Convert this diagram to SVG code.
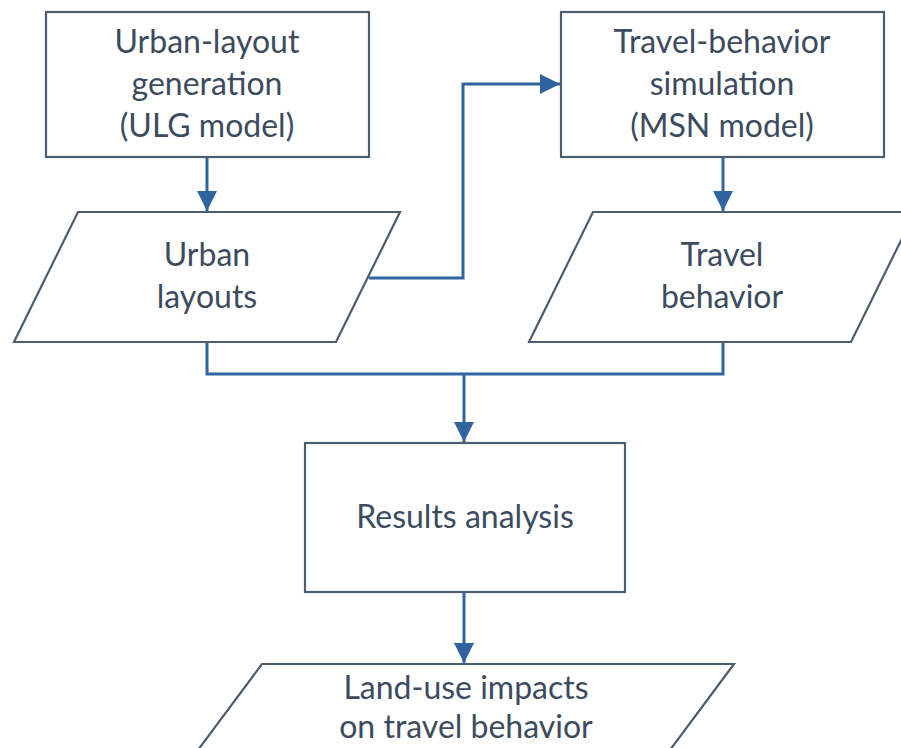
<svg xmlns="http://www.w3.org/2000/svg" width="901" height="748" viewBox="0 0 901 748">
<defs>
<marker id="ah" viewBox="0 0 20 20" refX="20" refY="10" markerWidth="20" markerHeight="20" markerUnits="userSpaceOnUse" orient="auto">
<path d="M0,0 L20,10 L0,20 Z" fill="#2f64a0"/>
</marker>
<style>
.shape{fill:#ffffff;stroke:#4d5d70;stroke-width:2.2}
.conn{fill:none;stroke:#2f64a0;stroke-width:3}
.lbl{font-family:Lato,"Open Sans","Liberation Sans",sans-serif;font-size:32px;fill:#3c4b5e;text-anchor:middle}
</style>
</defs>
<rect width="901" height="748" fill="#ffffff"/>
<g id="connectors">
<path class="conn" d="M207,157 V211" marker-end="url(#ah)"/>
<path class="conn" d="M723,157 V211" marker-end="url(#ah)"/>
<path class="conn" d="M369,278 H463 V84 H560" marker-end="url(#ah)"/>
<path class="conn" d="M207,342 V374 H723 V342"/>
<path class="conn" d="M464,374 V442" marker-end="url(#ah)"/>
<path class="conn" d="M464,592 V663" marker-end="url(#ah)"/>
</g>
<g id="ulg">
<rect class="shape" x="46" y="12" width="323" height="145"/>
<text class="lbl" x="207" y="53">Urban-layout</text>
<text class="lbl" x="207" y="95">generation</text>
<text class="lbl" x="207" y="137">(ULG model)</text>
</g>
<g id="msn">
<rect class="shape" x="561" y="12" width="323" height="145"/>
<text class="lbl" x="722" y="53">Travel-behavior</text>
<text class="lbl" x="722" y="95">simulation</text>
<text class="lbl" x="722" y="137">(MSN model)</text>
</g>
<g id="urbanlayouts">
<polygon class="shape" points="78,212 400,212 336,342 14,342"/>
<text class="lbl" x="207" y="266">Urban</text>
<text class="lbl" x="207" y="308">layouts</text>
</g>
<g id="travelbehavior">
<polygon class="shape" points="593,212 915,212 851,342 529,342"/>
<text class="lbl" x="722" y="266">Travel</text>
<text class="lbl" x="722" y="308">behavior</text>
</g>
<g id="results">
<rect class="shape" x="305" y="443" width="320" height="149"/>
<text class="lbl" x="465" y="528">Results analysis</text>
</g>
<g id="impacts">
<polygon class="shape" points="262,664 734,664 670,750 198,750"/>
<text class="lbl" x="466" y="699">Land-use impacts</text>
<text class="lbl" x="466" y="738">on travel behavior</text>
</g>
</svg>
